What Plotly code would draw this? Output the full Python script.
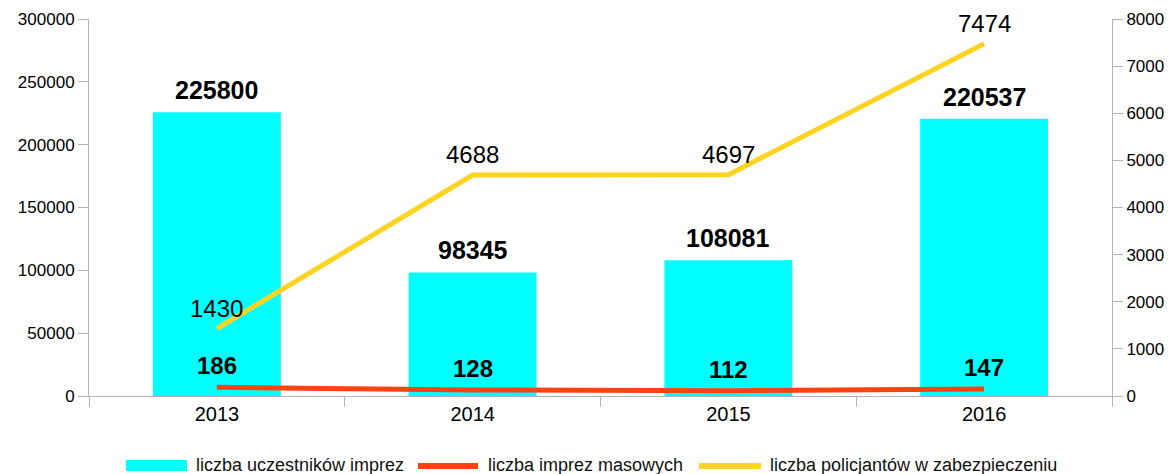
import plotly.graph_objects as go

years = ["2013", "2014", "2015", "2016"]
uczestnicy = [225800, 98345, 108081, 220537]
imprezy = [186, 128, 112, 147]
policjanci = [1430, 4688, 4697, 7474]
names = ["liczba uczestników imprez", "liczba imprez masowych",
         "liczba policjantów w zabezpieczeniu"]

CYAN = "#00FFFF"
RED = "#FF420E"
YELLOW = "#FFD320"
AX = "#B3B3B3"
FONT = "Liberation Sans, Arial, sans-serif"

W, H = 1173, 474
ML, MR, MT, MB = 89, 61, 19, 78
PW, PH = W - ML - MR, H - MT - MB


def px_x(x):
    return (x - ML) / PW


def px_y(y):
    return (H - MB - y) / PH


fig = go.Figure()
fig.add_trace(go.Bar(
    x=years, y=uczestnicy, name=names[0],
    marker=dict(color=CYAN, line=dict(width=0)), width=0.5,
))
fig.add_trace(go.Scatter(
    x=years, y=imprezy, name=names[1], yaxis="y2",
    mode="lines", line=dict(color=RED, width=5), cliponaxis=False,
))
fig.add_trace(go.Scatter(
    x=years, y=policjanci, name=names[2], yaxis="y2",
    mode="lines", line=dict(color=YELLOW, width=5), cliponaxis=False,
))

annotations = []
for i, v in enumerate(uczestnicy):
    annotations.append(dict(x=i, y=v, xref="x", yref="y", text=str(v), showarrow=False,
                            yanchor="bottom", yshift=6,
                            font=dict(size=25, color="black", family=FONT, weight="bold")))
for i, v in enumerate(imprezy):
    annotations.append(dict(x=i, y=v, xref="x", yref="y2", text=str(v), showarrow=False,
                            yanchor="bottom", yshift=6,
                            font=dict(size=24, color="black", family=FONT, weight="bold")))
for i, v in enumerate(policjanci):
    annotations.append(dict(x=i, y=v, xref="x", yref="y2", text=str(v), showarrow=False,
                            yanchor="bottom", yshift=5,
                            font=dict(size=24, color="black", family=FONT)))

# custom legend
legend_items = [
    ("rect", CYAN, 126, 187, names[0], 194),
    ("line", RED, 418, 478, names[1], 486),
    ("line", YELLOW, 699, 761, names[2], 768),
]
shapes = []
for kind, col, x0, x1, label, tx in legend_items:
    if kind == "rect":
        y0, y1 = 471, 460
    else:
        y0, y1 = 469, 463
    shapes.append(dict(type="rect", xref="paper", yref="paper",
                       x0=px_x(x0), x1=px_x(x1), y0=px_y(y0), y1=px_y(y1),
                       fillcolor=col, line=dict(width=0)))
    annotations.append(dict(x=px_x(tx), y=px_y(465), xref="paper", yref="paper",
                            text=label, showarrow=False, xanchor="left", yanchor="middle",
                            font=dict(size=18, color="#111111", family=FONT)))

fig.update_layout(
    width=W, height=H,
    margin=dict(l=ML, r=MR, t=MT, b=MB, autoexpand=False),
    paper_bgcolor="white", plot_bgcolor="white",
    font=dict(family=FONT, size=17, color="black"),
    showlegend=False,
    bargap=0.5,
    annotations=annotations,
    shapes=shapes,
    xaxis=dict(type="category", range=[-0.5, 3.5], showline=True, linecolor=AX, linewidth=1,
               ticks="outside", tickson="boundaries", ticklen=10, tickcolor=AX,
               showgrid=False, tickfont=dict(size=20), automargin=False),
    yaxis=dict(range=[0, 300000], dtick=50000, tickformat="d", showline=True, linecolor=AX,
               ticks="outside", ticklen=10, tickcolor=AX, showgrid=False,
               zeroline=False, tickfont=dict(size=17), automargin=False),
    yaxis2=dict(range=[0, 8000], dtick=1000, tickformat="d", overlaying="y", side="right",
                showline=True, linecolor=AX, ticks="outside", ticklen=10,
                tickcolor=AX, showgrid=False, zeroline=False, tickfont=dict(size=17),
                automargin=False),
)

fig.write_html("out.html", config={"displayModeBar": False},
               post_script="document.body.style.margin='0';document.body.style.overflow='hidden';")
